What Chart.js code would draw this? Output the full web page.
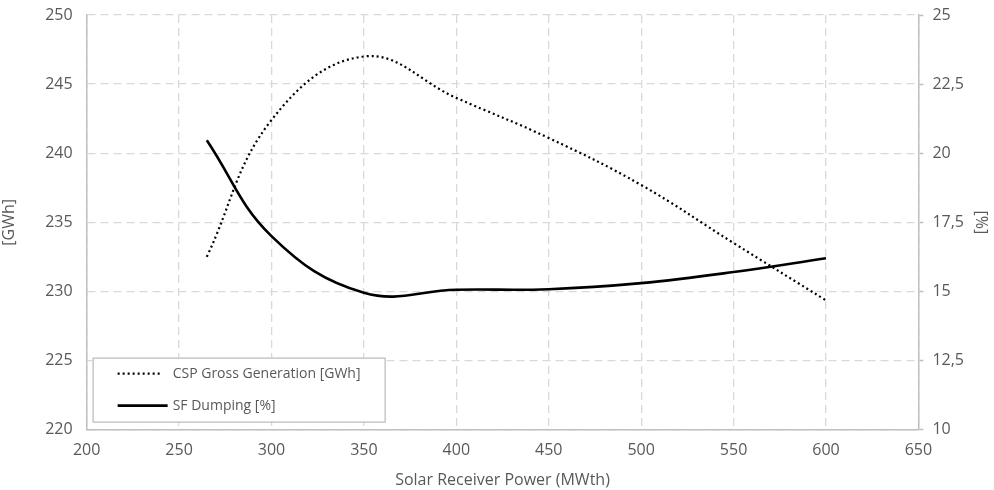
<!DOCTYPE html>
<html>
<head>
<meta charset="utf-8">
<script src="https://cdn.jsdelivr.net/npm/chart.js@4.4.1/dist/chart.umd.min.js"></script>
<style>
  html, body { margin: 0; padding: 0; background: #ffffff; }
  #wrap { width: 994px; height: 490px; position: relative; }
</style>
</head>
<body>
<div id="wrap"><canvas id="grafica"></canvas></div>
<script>
// datos
const potencias = [265, 300, 350, 400, 450, 500, 550, 600];
const generacion = [232.5, 242.4, 247.0, 244.0, 241.1, 237.7, 233.5, 229.35];
const dumping = [20.47, 17.0, 14.95, 15.06, 15.08, 15.3, 15.7, 16.2];

// etiquetas de los ejes
const etiquetasX = ['200', '250', '300', '350', '400', '450', '500', '550', '600', '650'];
const etiquetasIzq = ['220', '225', '230', '235', '240', '245', '250'];
const etiquetasDer = ['10', '12,5', '15', '17,5', '20', '22,5', '25'];

const tituloX = 'Solar Receiver Power (MWth)';
const tituloIzq = '[GWh]';
const tituloDer = '[%]';
const nombres = ['CSP Gross Generation [GWh]', 'SF Dumping [%]'];

const gris = '#595959';
const rejilla = '#d9d9d9';
const borde = '#bfbfbf';
const fuente = "'Open Sans', 'DejaVu Sans', sans-serif";

Chart.defaults.font.family = fuente;
Chart.defaults.color = gris;

// margen superior igual al de la grafica original
function ajustarMargen(scale) {
    scale.paddingTop = 15;
    scale.paddingBottom = 0;
}

// leyenda dentro del area de la grafica, abajo a la izquierda
const leyendaCaja = {
    id: 'leyendaCaja',
    afterDraw(chart) {
        const ctx = chart.ctx;
        const area = chart.chartArea;
        const x0 = area.left + 6;
        const w = 292;
        const h = 64;
        const y0 = area.bottom - 8 - h;
        ctx.save();
        ctx.fillStyle = '#ffffff';
        ctx.fillRect(x0, y0, w, h);
        ctx.strokeStyle = borde;
        ctx.lineWidth = 1.3;
        ctx.strokeRect(x0 + 0.5, y0 + 0.5, w, h);

        chart.data.datasets.forEach(function(ds, i) {
            const yy = y0 + 16 + i * 32;
            ctx.beginPath();
            ctx.strokeStyle = ds.borderColor;
            ctx.lineWidth = ds.borderWidth;
            ctx.setLineDash(ds.borderDash || []);
            ctx.moveTo(x0 + 25, yy);
            ctx.lineTo(x0 + (ds.borderDash ? 70 : 75), yy);
            ctx.stroke();
            ctx.setLineDash([]);
            ctx.fillStyle = gris;
            ctx.font = '14px ' + fuente;
            ctx.textBaseline = 'middle';
            ctx.textAlign = 'left';
            ctx.fillText(ds.label, x0 + 80, yy);
        });
        ctx.restore();
    }
};

const data = {
    datasets: [{
        label: nombres[0],
        data: potencias.map((p, i) => ({x: p, y: generacion[i]})),
        yAxisID: 'y',
        borderColor: '#000000',
        borderWidth: 2.2,
        borderDash: [2, 3],
        pointRadius: 0,
        tension: 0.4,
        fill: false
    }, {
        label: nombres[1],
        data: potencias.map((p, i) => ({x: p, y: dumping[i]})),
        yAxisID: 'y1',
        borderColor: '#000000',
        borderWidth: 2.6,
        pointRadius: 0,
        tension: 0.4,
        fill: false
    }]
};

const config = {
    type: 'line',
    data: data,
    options: {
        responsive: true,
        maintainAspectRatio: false,
        animation: false,
        layout: { padding: { left: 0, right: 0, top: 0, bottom: 0 } },
        plugins: {
            legend: { display: false },
            tooltip: { enabled: false }
        },
        scales: {
            x: {
                type: 'linear',
                min: 200,
                max: 650,
                ticks: {
                    stepSize: 50,
                    font: { size: 16 },
                    padding: 11,
                    callback: function(v, i) { return etiquetasX[i]; }
                },
                grid: { color: rejilla, lineWidth: 1.3, drawTicks: false },
                border: { color: borde, width: 1.5, dash: [8, 5] },
                title: { display: true, text: tituloX, font: { size: 16 }, padding: { top: 0, bottom: 0 } }
            },
            y: {
                position: 'left',
                min: 220,
                max: 250,
                afterFit: ajustarMargen,
                ticks: {
                    stepSize: 5,
                    font: { size: 16 },
                    padding: 14,
                    callback: function(v, i) { return etiquetasIzq[i]; }
                },
                grid: { color: rejilla, lineWidth: 1.3, drawTicks: false },
                border: { color: borde, width: 1.5, dash: [8, 5] },
                title: { display: true, text: tituloIzq, font: { size: 16 }, padding: { top: 0, bottom: 12 } }
            },
            y1: {
                position: 'right',
                min: 10,
                max: 25,
                afterFit: ajustarMargen,
                ticks: {
                    stepSize: 2.5,
                    font: { size: 16 },
                    padding: 9,
                    callback: function(v, i) { return etiquetasDer[i]; }
                },
                grid: { drawOnChartArea: false, drawTicks: true, tickLength: 5, tickColor: borde, tickWidth: 1.5 },
                border: { color: borde, width: 1.5 },
                title: { display: true, text: tituloDer, font: { size: 16, lineHeight: 1 }, padding: { top: 5, bottom: 0 } }
            }
        }
    },
    plugins: [leyendaCaja]
};

const miGrafica = new Chart(document.getElementById('grafica'), config);
</script>
</body>
</html>
